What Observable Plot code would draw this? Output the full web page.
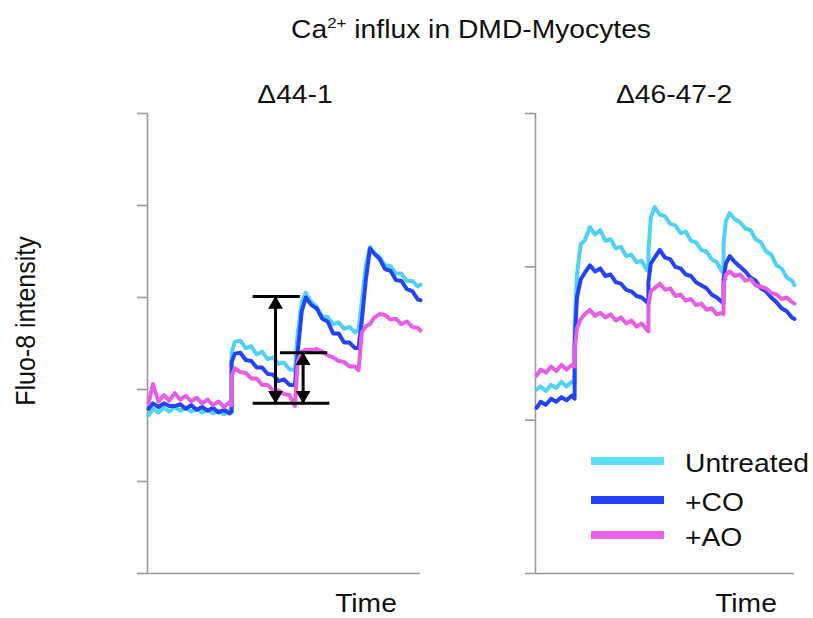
<!DOCTYPE html>
<html><head><meta charset="utf-8">
<script src="https://cdn.jsdelivr.net/npm/d3@7"></script>
<script src="https://cdn.jsdelivr.net/npm/@observablehq/plot@0.6"></script>
<style>
html,body{margin:0;padding:0;background:#fff;}
#wrap{position:relative;width:813px;height:618px;background:#fff;font-family:"Liberation Sans",Arial,Helvetica,sans-serif;color:#111;overflow:hidden}
.lbl{position:absolute;font-size:25px;line-height:25px;white-space:nowrap;}
.ctr{transform-origin:50% 0;transform:translateX(-50%) scaleX(1.13);}
.lft{transform-origin:0 0;transform:scaleX(1.13);}
.sup{font-size:15px;position:relative;top:-10px;}
.tight{line-height:20px;}
.panel{position:absolute;top:60px;}
.sw{position:absolute;height:8px;width:73px;}
</style></head>
<body>
<div id="wrap">
  <div class="lbl ctr" style="left:471px;top:17px">Ca<span class="sup">2+</span> influx in DMD-Myocytes</div>
  <div class="lbl ctr" id="pt0" style="left:295px;top:82px"></div>
  <div class="lbl ctr" id="pt1" style="left:674px;top:82px"></div>
  <div class="lbl ctr tight" style="left:366px;top:593px">Time</div>
  <div class="lbl ctr tight" style="left:746px;top:593px">Time</div>
  <div class="lbl" style="left:25px;top:321px;transform-origin:0 0;transform:scaleX(1.13) rotate(-90deg) translate(-50%,-50%)">Fluo-8 intensity</div>
  <div class="panel" id="p0" style="left:0px"></div>
  <div class="panel" id="p1" style="left:440px"></div>
  <div id="legend"></div>
</div>
<script>
const SERIES = ["Untreated", "+CO", "+AO"];
const COLORS = ["#4fd2f6", "#2443f5", "#e85ce6"];
const LEGEND_COLORS = ["#5fe0f7", "#2443f5", "#ea62e8"];
const PANELS = ["Δ44-1", "Δ46-47-2"];
const AXIS = "#9a9a9a";

const LEFT_TICKS = [0, 1, 2, 3, 4, 5];
const RIGHT_TICKS = [0, 1, 2, 3];

const LEFT_T = [0.4,2,4,6,8,10,12,14,16,18,20,22,24,26,28,30,30.8,
  30.8,32,34,36,38,40,42,44,46,48,50,52,54,
  55,56.5,58,60,62,64,66,68,70,72,74,76,77.3,
  78.5,80,81.5,83,85,87,89,91,93,95,97,99,100];
const LEFT_UNTREATED = [1.72,1.79,1.75,1.80,1.76,1.81,1.77,1.80,1.76,1.79,1.75,1.78,1.74,1.77,1.73,1.77,1.75,
  2.40,2.52,2.53,2.45,2.47,2.38,2.41,2.33,2.35,2.28,2.29,2.22,2.21,
  2.60,2.95,3.05,2.95,2.90,2.79,2.79,2.71,2.73,2.66,2.68,2.62,2.65,
  2.95,3.35,3.55,3.48,3.44,3.35,3.34,3.26,3.26,3.18,3.18,3.12,3.14];
const LEFT_CO = [1.79,1.85,1.81,1.85,1.82,1.82,1.84,1.79,1.83,1.78,1.81,1.77,1.80,1.75,1.78,1.74,1.76,
  2.30,2.39,2.40,2.32,2.31,2.24,2.24,2.17,2.16,2.09,2.11,2.05,2.05,
  2.40,2.85,3.00,2.92,2.88,2.77,2.74,2.61,2.61,2.51,2.51,2.45,2.45,
  2.75,3.20,3.53,3.48,3.42,3.31,3.29,3.19,3.18,3.09,3.07,2.98,2.97];
const LEFT_AO = [1.85,2.06,1.87,1.94,1.88,1.96,1.89,1.93,1.87,1.91,1.85,1.89,1.83,1.87,1.81,1.86,1.83,
  2.15,2.23,2.19,2.18,2.12,2.12,2.05,2.05,1.99,1.99,1.95,1.94,1.82,
  2.30,2.41,2.43,2.43,2.44,2.41,2.37,2.35,2.31,2.30,2.25,2.25,2.21,
  2.62,2.69,2.71,2.78,2.82,2.81,2.76,2.77,2.71,2.74,2.68,2.67,2.64];

const RIGHT_T = [0.4,2,4,6,8,10,12,14,15.1,
  15.1,16,17.5,19,21,23,25,27,29,31,33,35,37,39,41,43,43.6,
  43.6,44.5,46,48,50,52,54,56,58,60,62,64,66,68,70,72,72.6,
  72.6,73.5,75,77,79,81,83,85,87,89,91,93,95,97,99,100];
const RIGHT_UNTREATED = [1.20,1.22,1.19,1.23,1.21,1.25,1.22,1.25,1.24,
  1.60,1.95,2.15,2.17,2.26,2.21,2.24,2.17,2.18,2.12,2.13,2.07,2.08,2.03,2.04,1.98,1.97,
  2.10,2.32,2.39,2.34,2.33,2.28,2.27,2.22,2.23,2.17,2.16,2.11,2.10,2.05,2.03,1.97,1.96,
  2.15,2.30,2.35,2.31,2.29,2.25,2.24,2.18,2.16,2.10,2.08,2.01,1.99,1.93,1.91,1.88];
const RIGHT_CO = [1.08,1.12,1.10,1.14,1.12,1.15,1.13,1.16,1.14,
  1.50,1.80,1.92,1.96,2.01,1.97,1.99,1.94,1.95,1.90,1.89,1.85,1.84,1.81,1.80,1.77,1.76,
  1.90,2.02,2.06,2.11,2.06,2.05,2.00,1.99,1.95,1.94,1.90,1.88,1.86,1.82,1.80,1.77,1.76,
  1.92,2.02,2.07,2.03,2.00,1.97,1.93,1.91,1.86,1.84,1.80,1.77,1.73,1.71,1.67,1.66];
const RIGHT_AO = [1.29,1.33,1.31,1.35,1.32,1.36,1.33,1.36,1.35,
  1.45,1.60,1.66,1.69,1.72,1.68,1.70,1.67,1.69,1.65,1.67,1.63,1.65,1.61,1.63,1.59,1.58,
  1.75,1.84,1.86,1.89,1.85,1.86,1.81,1.82,1.78,1.79,1.75,1.76,1.72,1.73,1.69,1.70,1.69,
  1.88,1.95,1.97,1.94,1.95,1.91,1.92,1.88,1.87,1.86,1.83,1.82,1.79,1.80,1.77,1.76];

// annotation brackets and double arrows in the left panel
const BRACKETS = [{t1: 38.7, t2: 56.0, v: 3.01}, {t1: 48.7, t2: 66.0, v: 2.40}, {t1: 38.7, t2: 66.8, v: 1.85}];
const ARROWS = [{t: 46.9, v1: 1.85, v2: 3.01}, {t: 57.0, v1: 1.85, v2: 2.40}];

function rows(T, vals) {
  return SERIES.flatMap((s, k) => T.map((t, i) => ({t, v: vals[k][i], s})));
}

function panel(T, vals, ticks, opts, extra) {
  const yMax = d3.max(ticks);
  return Plot.plot({
    ...opts,
    height: 558,
    marginTop: 53,
    marginBottom: 45,
    style: {background: "transparent", overflow: "visible"},
    x: {domain: [0, 100], axis: null},
    y: {domain: [0, yMax]},
    color: {domain: SERIES, range: COLORS},
    marks: [
      Plot.axisY({ticks, tickSize: 10, tickFormat: () => "", label: null, stroke: AXIS, strokeWidth: 1.6}),
      Plot.ruleX([{x: 0, y1: 0, y2: yMax}], {x: "x", y1: "y1", y2: "y2", stroke: AXIS, strokeWidth: 1.6}),
      Plot.ruleY([{y: 0, x1: 0, x2: 100}], {y: "y", x1: "x1", x2: "x2", stroke: AXIS, strokeWidth: 1.6}),
      Plot.line(rows(T, vals), {x: "t", y: "v", z: "s", stroke: "s", strokeWidth: 4, strokeLinejoin: "round"}),
      ...extra
    ]
  });
}

const leftExtra = [
  Plot.ruleY(BRACKETS, {y: "v", x1: "t1", x2: "t2", stroke: "#000", strokeWidth: 3}),
  Plot.ruleX(ARROWS, {x: "t", y1: "v1", y2: "v2", stroke: "#000", strokeWidth: 3}),
  Plot.dot(ARROWS, {x: "t", y: "v2", symbol: "triangle", r: 5.5, fill: "#000", stroke: "none", dy: 8}),
  Plot.dot(ARROWS, {x: "t", y: "v1", symbol: "triangle", r: 5.5, fill: "#000", stroke: "none", dy: -8, rotate: 180})
];

document.getElementById("p0").append(
  panel(LEFT_T, [LEFT_UNTREATED, LEFT_CO, LEFT_AO], LEFT_TICKS, {width: 440, marginLeft: 147, marginRight: 20}, leftExtra));
document.getElementById("p1").append(
  panel(RIGHT_T, [RIGHT_UNTREATED, RIGHT_CO, RIGHT_AO], RIGHT_TICKS, {width: 373, marginLeft: 95, marginRight: 19}, []));

document.getElementById("pt0").textContent = PANELS[0];
document.getElementById("pt1").textContent = PANELS[1];

// legend (HTML, inside the right panel area)
const legend = document.getElementById("legend");
const LEG_Y = [461, 500, 535];
SERIES.forEach((s, i) => {
  const sw = document.createElement("div");
  sw.className = "sw";
  sw.style.left = "591px";
  sw.style.top = (LEG_Y[i] - 4) + "px";
  sw.style.background = LEGEND_COLORS[i];
  legend.append(sw);
  const tx = document.createElement("div");
  tx.className = "lbl lft";
  tx.style.left = "685px";
  tx.style.top = (LEG_Y[i] + 11 - 21) + "px";
  tx.textContent = s;
  legend.append(tx);
});
</script>
</body></html>
